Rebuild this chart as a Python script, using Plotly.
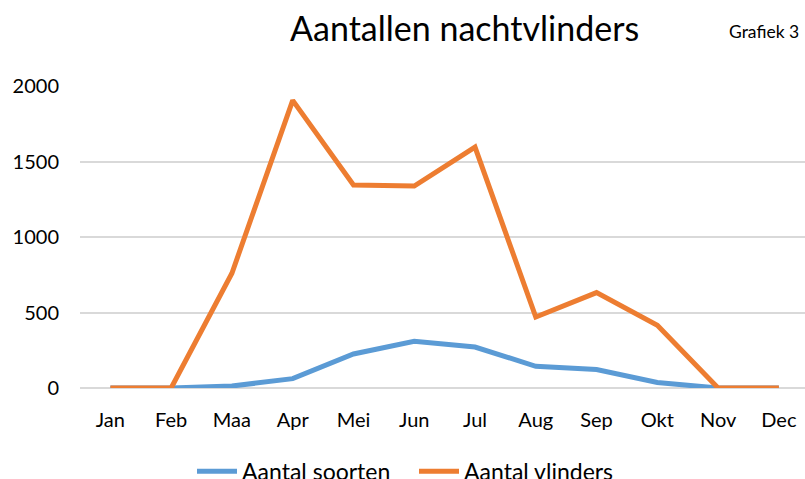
import plotly.graph_objects as go

months = ["Jan", "Feb", "Maa", "Apr", "Mei", "Jun", "Jul", "Aug", "Sep", "Okt", "Nov", "Dec"]
soorten = [0, 0, 13, 62, 225, 309, 271, 144, 122, 36, 0, 0]
vlinders = [0, 0, 760, 1905, 1345, 1337, 1595, 470, 632, 415, 0, 0]
y_ticks = [0, 500, 1000, 1500, 2000]

FONT = "Lato"
fig = go.Figure()
fig.add_trace(go.Scatter(x=months, y=soorten, mode="lines", name="Aantal soorten",
                         line=dict(color="#5B9BD5", width=5), cliponaxis=False))
fig.add_trace(go.Scatter(x=months, y=vlinders, mode="lines", name="Aantal vlinders",
                         line=dict(color="#ED7D31", width=5), cliponaxis=False))

fig.update_layout(
    width=805, height=479,
    margin=dict(l=80, r=0, t=86, b=91, autoexpand=False),
    paper_bgcolor="white", plot_bgcolor="white",
    font=dict(family=FONT, size=20, color="#000000"),
    showlegend=True,
    legend=dict(orientation="h", x=(414 - 80) / 725, xanchor="center", y=-0.205, yanchor="top",
                font=dict(size=23), itemwidth=40, entrywidth=167),
    annotations=[
        dict(text="Aantallen nachtvlinders", xref="paper", yref="paper",
             x=(465 - 80) / 725, y=1 + (86 - 28) / 302, xanchor="center", yanchor="middle",
             showarrow=False, font=dict(size=34, family=FONT)),
        dict(text="Grafiek 3", xref="paper", yref="paper",
             x=1 - 4 / 725, y=1 + (86 - 32) / 302, xanchor="right", yanchor="middle",
             showarrow=False, font=dict(size=17.5, family=FONT)),
    ],
)
fig.update_xaxes(type="category", range=[-0.5, 11.43], showgrid=False, showline=False,
                 ticks="", ticklabelstandoff=18, tickfont=dict(size=20))
fig.update_yaxes(range=[0, 2000], tickvals=y_ticks, showgrid=True, gridcolor="#D9D9D9",
                 gridwidth=1.5, zeroline=True, zerolinecolor="#D9D9D9", zerolinewidth=1.5,
                 ticks="", ticklabelstandoff=20, tickfont=dict(size=20))

fig.write_html("out.html", config={"displayModeBar": False},
               post_script="document.body.style.margin='0';")
